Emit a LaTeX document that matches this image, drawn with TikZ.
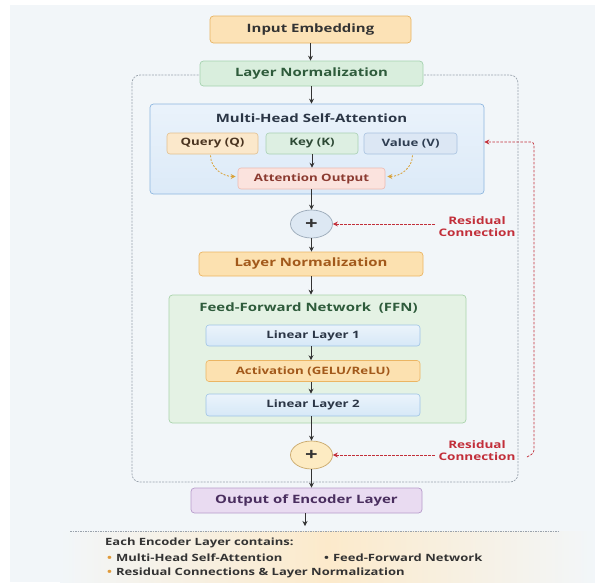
\documentclass[tikz,border=0pt]{standalone}
\usepackage{fontspec}
\setmainfont{Open Sans}[FakeStretch=1.3]
\usetikzlibrary{arrows.meta,shapes.geometric,calc}
\definecolor{bgc}{HTML}{F2F6F9}
\definecolor{inpf}{HTML}{FCE2B6}\definecolor{inpd}{HTML}{E8B462}
\definecolor{grf}{HTML}{D9EEDD}\definecolor{grd}{HTML}{A5D2AF}\definecolor{grt}{HTML}{2E5B3B}
\definecolor{blf}{HTML}{DCEAF8}\definecolor{bld}{HTML}{8DB6DF}\definecolor{blt}{HTML}{2B3646}
\definecolor{qf}{HTML}{FBE8CB}\definecolor{qd}{HTML}{E2C08F}\definecolor{qt}{HTML}{4A3420}
\definecolor{kf}{HTML}{DDEFE2}\definecolor{kd}{HTML}{A9D0B3}\definecolor{kt}{HTML}{2E4A36}
\definecolor{vf}{HTML}{DCE7F4}\definecolor{vd}{HTML}{A8C2E0}\definecolor{vt}{HTML}{2F3E52}
\definecolor{aof}{HTML}{FBE3DE}\definecolor{aod}{HTML}{EDB9AF}\definecolor{aot}{HTML}{8B3A30}
\definecolor{orf}{HTML}{FCE1B0}\definecolor{ord}{HTML}{EBB563}\definecolor{ort}{HTML}{A2591B}
\definecolor{ffnf}{HTML}{E4F2E4}\definecolor{ffnd}{HTML}{A9D3AB}
\definecolor{linf}{HTML}{D6E8F7}\definecolor{lind}{HTML}{9EC3E6}
\definecolor{p1f}{HTML}{DDE8F3}\definecolor{p1d}{HTML}{9AA9B8}
\definecolor{p2f}{HTML}{FDEBC2}\definecolor{p2d}{HTML}{C9A86A}
\definecolor{outf}{HTML}{E9DBF1}\definecolor{outd}{HTML}{B79CCB}\definecolor{outt}{HTML}{4A2E5F}
\definecolor{resc}{HTML}{C22F3A}
\definecolor{dashc}{HTML}{9AA3AD}
\definecolor{arc}{HTML}{333333}
\definecolor{curvc}{HTML}{D9A23A}
\definecolor{botf}{HTML}{FCEACB}
\definecolor{bul}{HTML}{E09A3A}
\definecolor{txt}{HTML}{333333}
\begin{document}
\begin{tikzpicture}[x=1pt,y=-1pt,
  box/.style={draw, rounded corners=3.5pt, line width=0.7pt, inner sep=0pt, font=\fontsize{11.5}{13}\selectfont\bfseries},
  ibox/.style={draw, rounded corners=3pt, line width=0.6pt, inner sep=0pt, font=\fontsize{10.2}{12}\selectfont\bfseries},
  plus/.style={ellipse, draw, line width=0.7pt, minimum width=42pt, minimum height=28pt, inner sep=0pt, font=\fontsize{17}{17}\selectfont\bfseries, text=arc},
  arr/.style={-{Stealth[length=5pt,width=5pt]}, line width=0.8pt, draw=arc},
  resarr/.style={-{Stealth[length=5pt,width=5pt]}, dashed, dash pattern=on 2.5pt off 1.5pt, line width=0.7pt, draw=resc},
  restxt/.style={align=center, text=resc, font=\fontsize{10.4}{12}\selectfont\bfseries},
  curv/.style={-{Stealth[length=5pt,width=5pt]}, dash pattern=on 2pt off 1.5pt, line width=0.8pt, draw=curvc},
  btxt/.style={anchor=west, text=txt, inner sep=0pt, font=\fontsize{10}{12}\selectfont\bfseries}]
\useasboundingbox (0,0) rectangle (595,582);
\fill[white] (0,0) rectangle (595,582);
\fill[bgc] (10,5) rectangle (595,582);
% bottom summary background
\shade[left color=bgc, right color=bgc, middle color=botf] (60,531) rectangle (595,582);
\draw[dashc, dash pattern=on 1.5pt off 1pt, line width=0.5pt] (70,531) -- (560,531);

% outer dashed encoder frame
\draw[dashc, dash pattern=on 2pt off 1.2pt, line width=0.7pt, rounded corners=8pt] (132,75) rectangle (518,482);

% nodes
\node[box, fill=inpf, draw=inpd, text=txt, minimum width=201pt, minimum height=27pt] (inp) at (310.5,29.5) {Input Embedding};
\node[box, fill=grf, draw=grd, text=grt, minimum width=223pt, minimum height=25pt] (ln1) at (311.5,73.5) {Layer Normalization};

\node[box, top color=white!40!blf, bottom color=blf, draw=bld, minimum width=334pt, minimum height=90pt] (mhsa) at (317,149) {};
\node[text=blt, font=\fontsize{11.5}{13}\selectfont\bfseries, inner sep=0pt] (mhsat) at (311.5,118) {Multi-Head Self-Attention};
\node[ibox, fill=qf, draw=qd, text=qt, minimum width=91pt, minimum height=21pt] (q) at (212.5,143.5) {Query (Q)};
\node[ibox, fill=kf, draw=kd, text=kt, minimum width=92pt, minimum height=21pt] (k) at (312,143.5) {Key (K)};
\node[ibox, fill=vf, draw=vd, text=vt, minimum width=93pt, minimum height=21pt] (v) at (410.5,143.5) {Value (V)};
\node[ibox, fill=aof, draw=aod, text=aot, minimum width=147pt, minimum height=21pt] (ao) at (311.5,178.5) {Attention Output};

\node[plus, fill=p1f, draw=p1d] (p1) at (311.5,224) {+};
\node[restxt] (res1) at (477,227) {Residual\\Connection};

\node[box, fill=orf, draw=ord, text=ort, minimum width=224pt, minimum height=24pt] (ln2) at (311,264) {Layer Normalization};

\node[box, fill=ffnf, draw=ffnd, minimum width=297pt, minimum height=128pt] (ffn) at (317.5,359) {};
\node[text=grt, font=\fontsize{11.5}{13}\selectfont\bfseries, inner sep=0pt] (ffnt) at (308.5,308) {Feed-Forward Network\ \ (FFN)};
\node[ibox, top color=white!50!linf, bottom color=linf, draw=lind, text=blt, minimum width=214pt, minimum height=21pt] (l1) at (313,335.5) {Linear Layer 1};
\node[ibox, fill=orf, draw=ord, text=ort, minimum width=214pt, minimum height=21pt] (act) at (313,371) {Activation (GELU/ReLU)};
\node[ibox, top color=white!50!linf, bottom color=linf, draw=lind, text=blt, minimum width=214pt, minimum height=22pt] (l2) at (313,405) {Linear Layer 2};

\node[plus, fill=p2f, draw=p2d] (p2) at (311.5,455) {+};
\node[restxt] (res2) at (477,451) {Residual\\Connection};

\node[box, fill=outf, draw=outd, text=outt, minimum width=231pt, minimum height=25pt] (out) at (306.5,500.5) {Output of Encoder Layer};
\coordinate (outend) at (305,526);

% summary text
\node[btxt] (each) at (105,543) {Each Encoder Layer contains:};
\node[btxt] (b1) at (107,557.5) {{\color{bul}\textbullet}\hspace{4pt}Multi-Head Self-Attention};
\node[btxt] (b2) at (324,557.5) {\textbullet\hspace{4pt}Feed-Forward Network};
\node[btxt] (b3) at (107,572.5) {{\color{bul}\textbullet}\hspace{4pt}Residual Connections \& Layer Normalization};

% main flow arrows
\draw[arr] (inp.south) -- (inp.south |- ln1.north);
\draw[arr] (ln1.south) -- (ln1.south |- mhsa.north);
\draw[arr] (k.south) -- (k.south |- ao.north);
\draw[arr] (ao.south) -- (ao.south |- p1.north);
\draw[arr] (p1.south) -- (p1.south |- ln2.north);
\draw[arr] (ln2.south) -- (ln2.south |- ffn.north);
\draw[arr] (l1.south -| ln2.south) -- (ln2.south |- act.north);
\draw[arr] (act.south -| ln2.south) -- (ln2.south |- l2.north);
\draw[arr] (l2.south -| p2.south) -- (p2.north);
\draw[arr] (p2.south) -- (p2.south |- out.north);
\draw[arr] (out.south -| outend) -- (outend);

% Q / V dashed curves
\draw[curv] ($(q.south)+(-2,1)$) to[out=-90, in=180] ($(ao.west)+(-2,-2)$);
\draw[curv] ($(v.south)+(2,1)$) to[out=-90, in=0] ($(ao.east)+(2,-2)$);

% residual arrows
\draw[resarr] (res1.west |- p1.east) -- (p1.east);
\draw[resarr] (res2.west |- p2.east) -- (p2.east);
\coordinate (rtail) at (527,457);
\coordinate (rtop) at (534,142);
\draw[resarr, rounded corners=3pt] (rtail) -- (534,453) -- (rtop) -- (mhsa.east |- rtop);
\end{tikzpicture}
\end{document}
